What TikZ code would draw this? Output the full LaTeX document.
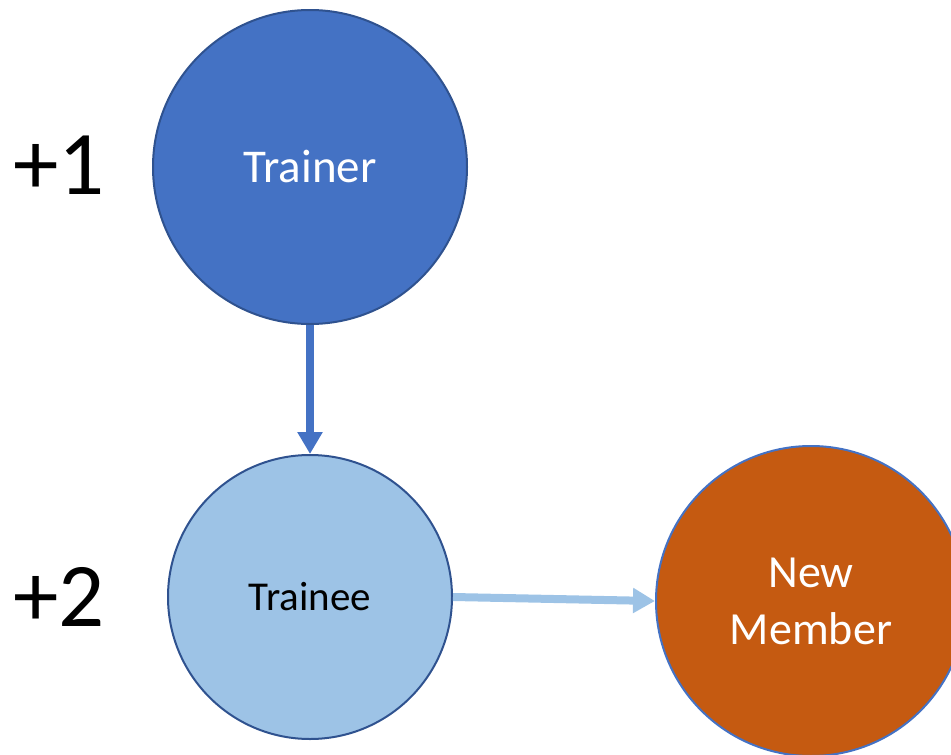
\documentclass[tikz,border=0pt]{standalone}
\usepackage{fontspec}
\setmainfont{Carlito}
\usetikzlibrary{arrows.meta}
\definecolor{trainerblue}{HTML}{4472C4}
\definecolor{rimblue}{HTML}{2F528F}
\definecolor{traineeblue}{HTML}{9DC3E6}
\definecolor{memberorange}{HTML}{C55A11}
\tikzset{every circle node/.style={draw, line width=2pt, inner sep=0pt},
  rank/.style={font=\fontsize{91}{100}\selectfont, anchor=center},
  link/.style={line width=8pt, -{Triangle[length=22pt,width=24pt]}}}

\begin{document}
\begin{tikzpicture}[x=1pt,y=-1pt]
   \useasboundingbox (0,0) rectangle (951,755);
   \node[circle, minimum size=314pt, fill=trainerblue, draw=rimblue, text=white, font=\fontsize{47}{56}\selectfont] (trainer) at (310,167) {Trainer};
   \node[circle, minimum size=284pt, fill=traineeblue, draw=rimblue, font=\fontsize{41}{50}\selectfont] (trainee) at (310,597) {Trainee};
   \node[circle, minimum size=310pt, fill=memberorange, draw=trainerblue, text=white, align=center, font=\fontsize{46}{57}\selectfont] (member) at (811,601) {New\\Member};
   \node[rank] (one) at (59,165) {+1};
   \node[rank] (two) at (59,597) {+2};
   \draw[link, trainerblue] (trainer.south) -- (trainee.north);
   \draw[link, traineeblue] (trainee.east) -- (member.west);
  \end{tikzpicture}
\end{document}
